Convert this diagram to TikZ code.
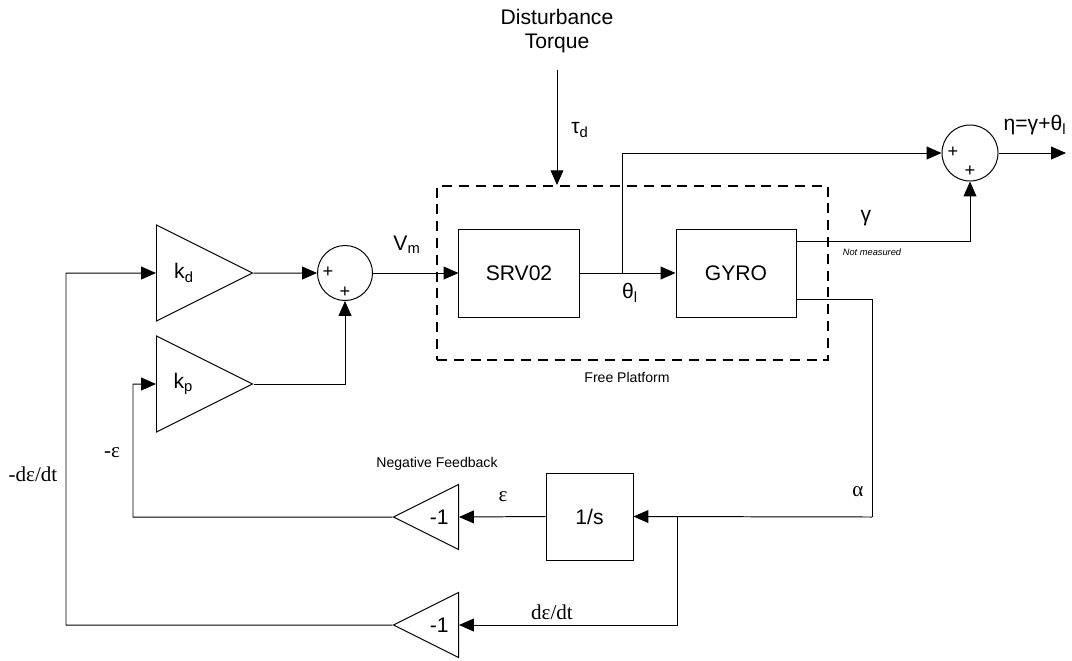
\documentclass[tikz,border=0pt]{standalone}
\usepackage{fontspec}
\setmainfont{Liberation Sans}
\newfontfamily\timesfont{Liberation Serif}
\usetikzlibrary{arrows.meta,shapes.geometric,positioning}

\tikzset{
  block/.style={draw, minimum width=3cm, minimum height=2.2cm, inner sep=0pt, font=\fontsize{15}{17}\selectfont},
  gain/.style={draw, isosceles triangle, isosceles triangle apex angle=53.13,
    minimum width=2.4cm, minimum height=2.4cm, inner sep=0pt, font=\fontsize{15}{17}\selectfont},
  neg/.style={shape border rotate=180, minimum width=1.625cm, minimum height=1.625cm},
  sumnode/.style={draw, circle, minimum size=1.375cm, inner sep=0pt},
  plus/.style={font=\fontsize{13}{14}\selectfont, inner sep=0pt},
  lbl/.style={font=\fontsize{15}{17}\selectfont},
  greek/.style={font=\timesfont\fontsize{15}{17}\selectfont},
  small/.style={font=\fontsize{10}{12}\selectfont},
}

\begin{document}
\begin{tikzpicture}[x=0.025cm, y=-0.025cm, line width=0.7pt,
    >={Triangle[length=0.37cm,width=0.32cm]}]
  \useasboundingbox (0,0) rectangle (1072,660);

  % Disturbance torque
  \node[lbl, align=center] (dist) at (557,31) {Disturbance\\Torque};
  \node[lbl] (taud) at (580,130) {τ\textsubscript{d}};

  % Free platform
  \node[draw, dash pattern=on 0.25cm off 0.17cm, line width=1.3pt,
    minimum width=9.775cm, minimum height=4.35cm] (fp) at (632.5,273) {};
  \node[small] (fplbl) at (627,377) {Free Platform};
  \draw[->] ([yshift=-0.3cm]dist.south) -- (dist |- fp.north);

  \node[block] (srv) at (519,273) {SRV02};
  \node[block] (gyro) at (736,273) {GYRO};

  % Summing junctions
  \node[sumnode] (s1) at (345,273) {};
  \node[plus] (s1a) at (328,272) {+};
  \node[plus] (s1b) at (345,292) {+};
  \node[sumnode, minimum size=1.4cm] (s2) at (970,153) {};
  \node[plus] (s2a) at (953,152) {+};
  \node[plus] (s2b) at (970,171) {+};

  % Gains
  \node[gain, anchor=west] (kd) at (156,273) {k\textsubscript{d}};
  \node[gain, anchor=west] (kp) at (156,384) {k\textsubscript{p}};
  \node[gain, neg, anchor=east] (n1) at (459,517) {-1};
  \node[gain, neg, anchor=east] (n2) at (459,625) {-1};
  \node[block, minimum width=2.175cm, minimum height=2.175cm] (integ) at (589.5,516.5) {1/s};

  % Branch points
  \coordinate (th) at (622,273);
  \coordinate (g1) at ([yshift=0.8cm]gyro.east);
  \coordinate (g2) at ([yshift=-0.65cm]gyro.east);
  \coordinate (out) at (1066,153);
  \coordinate (a1) at (872,517);
  \coordinate (b1) at (677,517);
  \coordinate (e1) at (133,517);
  \coordinate (e2) at (66,625);

  % Forward path
  \draw[->] (kd.apex) -- (s1.west);
  \draw[->] (kp.apex) -| (s1.south);
  \draw[->] (s1.east) -- (srv.west);
  \draw[->] (srv.east) -- (gyro.west);
  \draw[->] (th) |- (s2.west);
  \draw[->] (g1) -| (s2.south);
  \draw[->] (s2.east) -- (out);

  % Feedback
  \draw (g2) -| (a1);
  \draw[->] (a1) -- (integ.east);
  \draw[->] (b1) |- (n2.east);
  \draw[->] (integ.west) -- (n1.east);
  \draw[->] (n1.apex) -- (e1) |- (kp.west);
  \draw[->] (n2.apex) -- (e2) |- (kd.west);

  % Signal labels
  \node[lbl] (vm) at (407,245) {V\textsubscript{m}};
  \node[lbl] (thl) at (630,293) {θ\textsubscript{l}};
  \node[lbl] (gam) at (866,218) {γ};
  \node[font=\fontsize{6.6}{7}\selectfont\itshape] (nm) at (872,252) {Not measured};
  \node[lbl] (eta) at (1035,125) {η=γ+θ\textsubscript{l}};
  \node[greek] (alp) at (858,492) {α};
  \node[greek] (eps) at (503,497) {ε};
  \node[greek] (deps) at (552,612) {dε/dt};
  \node[greek] (meps) at (112,453) {-ε};
  \node[greek] (mdeps) at (33,474) {-dε/dt};
  \node[small] (nf) at (437,464) {Negative Feedback};
\end{tikzpicture}
\end{document}
